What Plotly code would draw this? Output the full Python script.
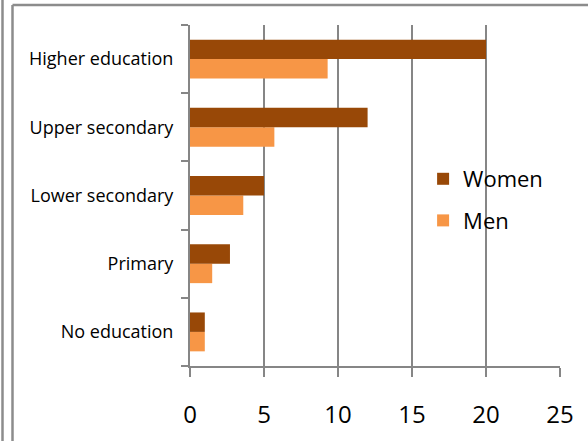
import plotly.graph_objects as go

categories = ["No education", "Primary", "Lower secondary", "Upper secondary", "Higher education"]
women = [1.0, 2.7, 5.0, 12.0, 20.0]
men = [1.0, 1.5, 3.6, 5.7, 9.3]
x_ticks = [0, 5, 10, 15, 20, 25]

W, H = 588, 441
ML, MR, MT, MB = 190, 28, 25, 75
pw, ph = W - ML - MR, H - MT - MB

def px_x(p):
    return (p - ML) / pw

def px_y(p):
    return (H - MB - p) / ph

GRAY = "#868686"

fig = go.Figure()
fig.add_trace(go.Bar(y=categories, x=men, name="Men", orientation="h",
                     marker=dict(color="#F79646", line=dict(width=0)),
                     legendgroup="m", legendrank=2))
fig.add_trace(go.Bar(y=categories, x=women, name="Women", orientation="h",
                     marker=dict(color="#984807", line=dict(width=0)),
                     legendgroup="w", legendrank=1))

frame = dict(color="#8c8c8c", width=2.5)
shapes = [
    dict(type="line", xref="paper", yref="paper", x0=px_x(2.5), x1=px_x(2.5), y0=px_y(0), y1=px_y(H + 5), line=frame),
    dict(type="line", xref="paper", yref="paper", x0=px_x(12.5), x1=px_x(12.5), y0=px_y(5), y1=px_y(H + 5), line=frame),
    dict(type="line", xref="paper", yref="paper", x0=px_x(12.5), x1=px_x(W + 5), y0=px_y(5), y1=px_y(5), line=frame),
]

fig.update_layout(
    width=W, height=H,
    margin=dict(l=ML, r=MR, t=MT, b=MB, autoexpand=False),
    paper_bgcolor="white", plot_bgcolor="white",
    barmode="group", bargap=0.43, bargroupgap=0,
    font=dict(family="Open Sans", color="black"),
    shapes=shapes,
    legend=dict(x=0.63, y=0.61, xanchor="left", yanchor="top",
                traceorder="grouped", tracegroupgap=10,
                font=dict(size=22, color="black"), bgcolor="rgba(0,0,0,0)"),
    xaxis=dict(range=[0, 25], tickvals=x_ticks, ticktext=[str(t) for t in x_ticks],
               showgrid=True, gridcolor=GRAY, gridwidth=2,
               showline=True, linecolor=GRAY, linewidth=2,
               ticks="outside", ticklen=9, tickwidth=2, tickcolor=GRAY,
               tickfont=dict(size=24, color="black"), ticklabelstandoff=17,
               zeroline=False, automargin=False),
    yaxis=dict(categoryorder="array", categoryarray=categories,
               showline=True, linecolor=GRAY, linewidth=2,
               ticks="outside", tickson="boundaries", ticklen=7, tickwidth=2, tickcolor=GRAY,
               tickfont=dict(size=18, color="black"), ticklabelstandoff=11,
               showgrid=False, automargin=False),
)

fig.write_html("out.html", config={"displayModeBar": False},
               post_script="document.body.style.margin='0';document.body.style.overflow='hidden';")
